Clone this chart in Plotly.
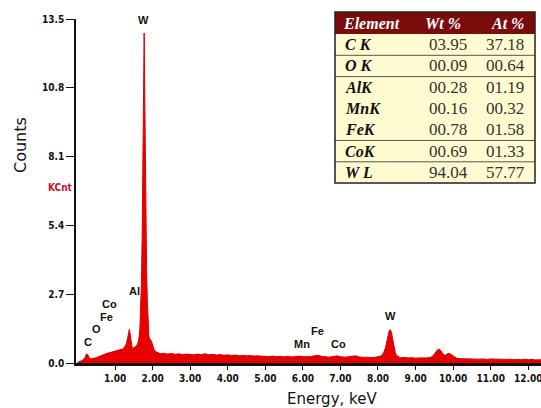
import plotly.graph_objects as go

# ---------------- data ----------------
energy = [0.00, 0.05, 0.10, 0.15, 0.20, 0.24, 0.28, 0.32, 0.36, 0.40, 0.45, 0.50, 0.55, 0.60,
          0.65, 0.70, 0.75, 0.80, 0.85, 0.90, 0.95, 1.00, 1.05, 1.10, 1.15, 1.20, 1.25, 1.30,
          1.33, 1.36, 1.38, 1.40, 1.42, 1.45, 1.48, 1.52, 1.56, 1.60, 1.63, 1.66, 1.68, 1.70,
          1.72, 1.74, 1.76, 1.775, 1.79, 1.80, 1.82, 1.84, 1.86, 1.88, 1.90, 1.92, 1.95, 1.98,
          2.01, 2.04, 2.08, 2.12, 2.16, 2.20, 2.30, 2.40, 2.50, 2.60, 2.70, 2.80, 2.90, 3.00,
          3.10, 3.20, 3.30, 3.40, 3.50, 3.60, 3.70, 3.80, 3.90, 4.00, 4.10, 4.20, 4.30, 4.40,
          4.50, 4.60, 4.70, 4.80, 4.90, 5.00, 5.10, 5.20, 5.30, 5.40, 5.50, 5.60, 5.70, 5.80,
          5.90, 6.00, 6.10, 6.20, 6.30, 6.40, 6.50, 6.60, 6.70, 6.80, 6.90, 7.00, 7.10, 7.20,
          7.30, 7.40, 7.50, 7.60, 7.70, 7.80, 7.90, 8.00, 8.05, 8.10, 8.15, 8.20, 8.24, 8.27,
          8.30, 8.33, 8.36, 8.39, 8.42, 8.46, 8.50, 8.55, 8.60, 8.70, 8.80, 8.90, 9.00, 9.10,
          9.20, 9.30, 9.40, 9.45, 9.50, 9.55, 9.60, 9.65, 9.70, 9.75, 9.80, 9.85, 9.90, 9.95,
          10.00, 10.05, 10.10, 10.20, 10.30, 10.40, 10.50, 10.60, 10.70, 10.80, 10.90, 11.00,
          11.10, 11.20, 11.30, 11.40, 11.50, 11.60, 11.70, 11.80, 11.90, 12.00, 12.10, 12.20,
          12.30, 12.34]
counts = [0.02, 0.05, 0.08, 0.12, 0.22, 0.36, 0.30, 0.18, 0.16, 0.17, 0.19, 0.21, 0.24, 0.26,
          0.30, 0.33, 0.36, 0.38, 0.40, 0.43, 0.45, 0.47, 0.48, 0.50, 0.52, 0.55, 0.62, 0.75,
          0.95, 1.20, 1.32, 1.15, 0.85, 0.62, 0.58, 0.62, 0.66, 0.75, 0.90, 1.30, 2.00, 3.10,
          4.80, 7.20, 10.90, 12.95, 10.60, 8.30, 5.60, 3.60, 2.40, 1.50, 1.05, 0.95, 0.90, 0.80,
          0.65, 0.52, 0.45, 0.41, 0.38, 0.36, 0.38, 0.35, 0.37, 0.34, 0.36, 0.33, 0.35, 0.34,
          0.32, 0.35, 0.33, 0.36, 0.32, 0.34, 0.31, 0.33, 0.30, 0.32, 0.29, 0.31, 0.28, 0.30,
          0.28, 0.29, 0.27, 0.28, 0.26, 0.27, 0.25, 0.27, 0.25, 0.26, 0.24, 0.26, 0.24, 0.25,
          0.27, 0.25, 0.24, 0.25, 0.28, 0.30, 0.26, 0.24, 0.23, 0.25, 0.28, 0.25, 0.23, 0.24,
          0.26, 0.28, 0.24, 0.22, 0.23, 0.21, 0.22, 0.23, 0.26, 0.30, 0.40, 0.60, 0.90, 1.15,
          1.28, 1.30, 1.20, 0.95, 0.65, 0.40, 0.28, 0.23, 0.21, 0.22, 0.20, 0.21, 0.19, 0.20,
          0.19, 0.20, 0.22, 0.26, 0.35, 0.46, 0.54, 0.52, 0.42, 0.32, 0.30, 0.36, 0.38, 0.33,
          0.25, 0.20, 0.18, 0.17, 0.16, 0.17, 0.15, 0.16, 0.15, 0.16, 0.14, 0.16,
          0.15, 0.14, 0.15, 0.14, 0.15, 0.13, 0.14, 0.13, 0.15, 0.13, 0.14, 0.12,
          0.13, 0.13]

x_tick_vals = [1, 2, 3, 4, 5, 6, 7, 8, 9, 10, 11, 12]
y_tick_vals = [0.0, 2.7, 5.4, 8.1, 10.8, 13.5]

peak_labels = ["C", "O", "Fe", "Co", "Al", "W", "Mn", "Fe", "Co", "W"]
peak_label_e = [0.28, 0.51, 0.76, 0.85, 1.53, 1.77, 5.98, 6.38, 6.96, 8.32]
peak_label_c = [0.82, 1.33, 1.81, 2.32, 2.83, 13.47, 0.75, 1.26, 0.75, 1.84]

table_header = ["Element", "Wt %", "At %"]
elements = ["C K", "O K", "AlK", "MnK", "FeK", "CoK", "W L"]
wt_pct = ["03.95", "00.09", "00.28", "00.16", "00.78", "00.69", "94.04"]
at_pct = ["37.18", "00.64", "01.19", "00.32", "01.58", "01.33", "57.77"]
row_separators_after = [0, 1, 4, 5]

# ---------------- layout geometry ----------------
W, H = 541, 408
ML, MR, MT, MB = 76, 0, 19, 45
PW, PH = W - ML - MR, H - MT - MB


def px(xp):
    return (xp - ML) / PW


def py(yp):
    return (H - MB - yp) / PH


RED = "#e60000"
TICKFONT = dict(family="DejaVu Sans Condensed, Liberation Sans Narrow, sans-serif",
                size=10, color="#111", weight="bold")

fig = go.Figure()
fig.add_trace(go.Scatter(x=energy, y=counts, mode="lines", fill="tozeroy",
                         line=dict(color="#dc0000", width=1), fillcolor=RED,
                         hoverinfo="skip", showlegend=False))

fig.update_layout(
    width=W, height=H,
    margin=dict(l=ML, r=MR, t=MT, b=MB, pad=0),
    paper_bgcolor="white", plot_bgcolor="white",
    showlegend=False,
    xaxis=dict(range=[-0.04, 12.34], showgrid=False, zeroline=False,
               showline=True, linecolor="#111", linewidth=2.5,
               ticks="outside", ticklen=4, tickwidth=1, tickcolor="#111",
               tickvals=x_tick_vals, ticktext=[f"{v:.2f}" for v in x_tick_vals],
               tickfont=TICKFONT, ticklabeloverflow="allow"),
    yaxis=dict(range=[0, 13.5], showgrid=False, zeroline=False,
               showline=True, linecolor="#111", linewidth=1.5,
               ticks="outside", ticklen=8, tickwidth=1, tickcolor="#111",
               tickvals=y_tick_vals, ticktext=[f"{v:.1f}" for v in y_tick_vals],
               tickfont=TICKFONT, ticklabelstandoff=0, ticklabeloverflow="allow"),
)

annotations = []
for t, e, c in zip(peak_labels, peak_label_e, peak_label_c):
    annotations.append(dict(x=e, y=c, xref="x", yref="y", text=t, showarrow=False,
                            xanchor="center", yanchor="middle",
                            font=dict(family="Liberation Sans, Arial, sans-serif",
                                      size=11, color="#111", weight="bold")))

# axis titles
annotations.append(dict(x=px(20), y=py(145), xref="paper", yref="paper", text="Counts",
                        showarrow=False, textangle=-90, xanchor="center", yanchor="middle",
                        font=dict(family="DejaVu Sans, sans-serif", size=16, color="#111")))
annotations.append(dict(x=px(332), y=py(399), xref="paper", yref="paper", text="Energy, keV",
                        showarrow=False, xanchor="center", yanchor="middle",
                        font=dict(family="DejaVu Sans, sans-serif", size=15, color="#111")))
annotations.append(dict(x=px(60), y=py(187), xref="paper", yref="paper", text="KCnt",
                        showarrow=False, xanchor="center", yanchor="middle",
                        font=dict(family="DejaVu Sans Condensed, sans-serif", size=10,
                                  color="#c8102e", weight="bold")))

# ---------------- results table ----------------
TL, TR, TT, HB = 335, 535, 12, 34
RH = 21.3
TB = HB + RH * len(elements)
shapes = [
    dict(type="rect", xref="paper", yref="paper", x0=px(TL), x1=px(TR), y0=py(HB), y1=py(TB),
         fillcolor="#fffbd0", line=dict(width=0), layer="above"),
    dict(type="rect", xref="paper", yref="paper", x0=px(TL), x1=px(TR), y0=py(TT), y1=py(HB),
         fillcolor="#7a0c0c", line=dict(width=0), layer="above"),
]
for i in row_separators_after:
    yy = HB + RH * (i + 1)
    shapes.append(dict(type="line", xref="paper", yref="paper", x0=px(TL), x1=px(TR),
                       y0=py(yy), y1=py(yy), line=dict(color="#555", width=1), layer="above"))
shapes.append(dict(type="rect", xref="paper", yref="paper", x0=px(TL), x1=px(TR),
                   y0=py(TT), y1=py(TB), line=dict(color="#222", width=1.5), layer="above"))

SERIF = "Liberation Serif, Times New Roman, serif"
col_x = [341, 443, 507]
col_anchor = ["left", "center", "center"]
for j, h in enumerate(table_header):
    annotations.append(dict(x=px(col_x[j]), y=py((TT + HB) / 2), xref="paper", yref="paper",
                            text=h, showarrow=False, xanchor=col_anchor[j], yanchor="middle",
                            font=dict(family=SERIF, size=16, color="white", weight="bold",
                                      style="italic")))
cell_x = [343, 448, 505]
for i, (el, w, a) in enumerate(zip(elements, wt_pct, at_pct)):
    yc = py(HB + RH * (i + 0.5))
    annotations.append(dict(x=px(cell_x[0]), y=yc, xref="paper", yref="paper", text=el,
                            showarrow=False, xanchor="left", yanchor="middle",
                            font=dict(family=SERIF, size=16, color="#111", weight="bold",
                                      style="italic")))
    for j, v in ((1, w), (2, a)):
        annotations.append(dict(x=px(cell_x[j]), y=yc, xref="paper", yref="paper", text=v,
                                showarrow=False, xanchor="center", yanchor="middle",
                                font=dict(family=SERIF, size=17, color="#333")))

fig.update_layout(annotations=annotations, shapes=shapes)
fig.write_html("out.html")
